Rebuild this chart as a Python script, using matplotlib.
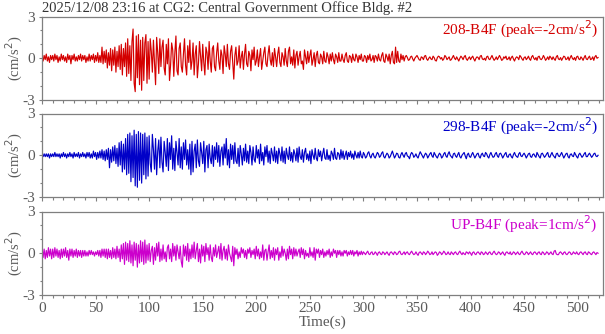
import numpy as np
import matplotlib
matplotlib.use("Agg")
import matplotlib.pyplot as plt
from matplotlib.ticker import MultipleLocator

title = "2025/12/08 23:16 at CG2: Central Government Office Bldg. #2"
channels = ["208-B4F", "298-B4F", "UP-B4F"]
peaks = ["-2", "-2", "1"]
colors = ["#d40000", "#0000c8", "#cc00cc"]
dt = 1.0  # seconds between listed values

ch208 = [
 0.1,-0.2,0.2,-0.1,0.3,-0.2,0.1,-0.3,0.2,-0.1,0.2,-0.2,0.3,-0.1,0.2,-0.3,0.1,-0.2,0.3,-0.1,
 0.2,-0.2,0.1,-0.3,0.3,-0.1,0.2,-0.4,0.2,-0.1,0.3,-0.2,0.1,-0.2,0.2,-0.1,0.3,-0.2,0.2,-0.1,
 0.2,-0.3,0.1,-0.2,0.3,-0.2,0.2,-0.1,0.3,-0.3,0.2,-0.2,0.4,-0.3,0.2,-0.3,0.8,-0.4,0.5,-0.3,
 0.6,-0.7,0.4,-0.5,0.7,-0.9,0.6,-0.5,0.8,-1.0,0.5,-0.6,0.9,-0.8,1.0,-1.2,0.7,-0.6,1.1,-1.3,
 1.4,-1.1,0.9,-1.6,1.2,2.1,-1.8,-2.4,1.6,-1.4,1.7,-1.9,1.3,-2.3,1.5,-1.6,1.1,1.7,-1.8,1.2,
 -1.5,1.4,0.5,-1.0,1.3,-0.3,-1.9,1.5,0.4,-1.1,1.4,-0.6,0.8,1.3,-0.7,-1.2,1.0,-0.4,1.4,-1.6,
 -0.5,1.1,0.6,-1.3,0.4,1.6,-0.9,-1.2,0.7,1.1,-0.6,-1.0,0.3,1.4,-0.5,-1.2,0.9,-0.3,1.3,-0.8,
 -0.2,1.1,-1.2,0.3,0.9,-1.4,-0.4,1.2,0.2,-0.9,1.0,-0.3,-1.2,0.8,0.4,-0.8,1.2,-0.2,-1.0,0.7,
 0.9,-0.6,-0.9,0.4,1.1,-0.2,-0.8,0.6,0.2,-1.1,0.9,0.3,-0.6,1.0,-0.4,-0.8,0.5,0.9,-0.3,-1.5,
 0.2,0.8,-0.5,-0.2,0.9,-0.7,0.1,0.5,-0.8,0.3,1.0,-0.4,-0.6,0.5,0.2,-0.9,0.6,-0.1,0.8,-0.5,
 -0.2,0.6,-0.6,0.1,0.7,-0.8,-0.2,0.4,0.8,-0.4,-0.6,0.3,0.9,-0.1,-0.5,0.4,-0.6,0.7,0.1,-0.6,
 0.3,0.8,-0.3,-0.6,0.4,0.1,-0.5,0.7,-0.2,-0.6,0.5,0.8,-0.4,0.1,-0.5,0.6,-0.7,0.2,0.5,-0.5,
 0.1,0.5,-0.4,-0.2,-0.8,0.6,0.1,-0.4,0.5,-0.3,0.2,0.6,-0.5,-0.1,0.4,-0.6,0.2,0.5,-0.3,-0.4,
 0.3,0.1,-0.4,0.5,-0.2,-0.3,0.4,0.1,-0.4,0.3,-0.2,0.4,-0.1,-0.4,0.3,0.1,-0.3,0.4,-0.2,-0.2,
 0.3,-0.1,-0.3,0.2,0.4,-0.2,-0.3,0.2,0.1,-0.3,0.3,-0.1,-0.2,0.3,0.1,-0.3,0.2,-0.1,0.3,-0.2,
 -0.2,0.2,0.1,-0.3,0.2,-0.1,0.3,-0.2,-0.1,0.2,-0.3,0.2,0.1,-0.2,0.3,-0.1,-0.2,0.2,0.4,-0.2,
 -0.3,0.3,0.1,-0.2,0.3,-0.4,0.2,0.5,-0.3,-0.4,0.8,-0.3,0.5,-0.2,-0.3,0.3,-0.1,0.2,-0.2,0.1,
 0.2,0.05,-0.15,-0.1,0.1,0.15,-0.05,-0.2,0.0,0.1,0.2,0.05,-0.1,-0.15,0.1,0.05,-0.1,0.15,0.2,-0.05,
 -0.15,0.0,0.1,-0.05,-0.1,0.15,0.05,-0.15,-0.2,0.05,0.15,0.1,-0.05,0.05,-0.15,-0.05,0.2,0.1,-0.1,0.0,
 0.1,-0.15,-0.1,0.05,0.2,0.0,-0.1,0.1,-0.05,-0.2,0.0,0.15,0.05,-0.1,0.1,0.2,-0.05,-0.15,0.0,0.1,
 -0.1,0.05,0.15,-0.05,-0.2,0.0,0.1,0.05,-0.1,0.15,0.2,-0.05,-0.1,0.0,-0.15,0.1,0.15,-0.05,-0.1,0.05,
 0.2,0.0,-0.15,-0.05,0.1,-0.1,0.05,0.2,0.05,-0.15,-0.1,0.1,0.0,0.15,-0.1,-0.05,0.1,-0.15,0.05,0.15,
 -0.05,-0.2,0.0,0.1,0.05,-0.1,0.2,0.1,-0.05,-0.15,0.05,0.1,-0.1,0.0,0.15,-0.05,-0.15,0.1,0.2,0.0,
 -0.1,0.05,-0.15,0.1,0.15,-0.05,-0.1,0.0,0.2,0.05,-0.15,-0.05,0.1,-0.1,0.15,0.05,-0.1,0.1,-0.05,-0.15,
 0.1,0.2,-0.05,-0.1,0.05,-0.15,0.0,0.15,0.1,-0.1,-0.05,0.1,-0.15,0.05,0.2,0.0,-0.1,0.05,-0.15,0.1,
 0.15,-0.05,-0.1,0.1,0.0,-0.15,0.05,0.2,-0.05,-0.1,0.05,0.15,-0.1,-0.05,0.1,-0.15,0.1,0.2,0.0,0.05,
]

ch298 = [
 0.1,-0.1,0.1,-0.1,0.1,-0.1,0.1,-0.2,0.1,-0.1,0.1,-0.1,0.2,-0.1,0.1,-0.1,0.1,-0.2,0.1,-0.1,
 0.2,-0.1,0.1,-0.2,0.1,-0.1,0.2,-0.1,0.1,-0.2,0.2,-0.1,0.1,-0.1,0.2,-0.2,0.1,-0.1,0.2,-0.1,
 0.1,-0.2,0.2,-0.1,0.2,-0.2,0.1,-0.2,0.3,-0.1,0.2,-0.3,0.2,-0.2,0.3,-0.2,0.4,-0.3,0.3,-0.4,
 0.4,-0.3,0.5,-0.9,0.4,-0.5,0.6,-0.4,0.7,-0.6,0.5,-0.8,0.9,-0.7,1.0,-1.2,0.8,-1.0,1.2,-1.4,
 1.5,-1.3,1.6,-1.9,1.4,-1.6,1.8,-2.2,1.5,-2.3,1.7,-1.8,1.6,-2.0,1.5,-1.4,1.6,-1.7,1.3,-1.5,
 1.4,-0.6,-1.2,1.5,0.4,-1.0,1.2,-1.4,0.3,1.1,-0.9,1.3,-0.5,-1.2,1.0,0.2,-0.8,1.2,-1.1,0.9,
 -0.3,1.4,-1.0,0.5,-1.1,1.0,0.2,-0.7,1.2,-0.9,0.6,-1.0,0.9,-0.3,1.1,-0.7,0.4,-1.0,0.8,-1.4,
 1.0,-1.2,0.3,0.8,-0.9,1.1,-0.4,-0.8,0.9,0.2,-0.6,1.0,-1.2,0.4,0.7,-0.9,0.8,-0.2,-0.6,0.7,
 -0.8,0.6,-0.3,0.9,-0.5,0.7,-0.8,0.3,0.6,-0.7,0.8,-0.2,1.2,-0.7,0.4,-0.9,0.8,-0.3,0.7,-0.6,
 0.9,-0.4,-0.6,0.5,-0.8,0.7,0.1,-0.7,0.5,-0.4,0.8,-0.5,0.3,-0.6,0.7,0.2,-0.7,0.6,-0.3,-0.5,
 0.7,-0.2,0.4,-0.6,0.8,-0.4,0.2,-0.7,0.6,-0.1,0.7,-0.5,0.3,-0.6,0.5,0.1,-0.4,0.6,-0.5,0.3,
 -0.6,0.5,0.1,-0.4,0.6,-0.5,0.3,-0.6,0.5,0.0,-0.3,0.6,-0.4,0.2,-0.5,0.4,0.1,-0.4,0.5,-0.5,
 0.6,-0.1,-0.3,0.4,-0.5,0.2,0.5,-0.3,0.1,-0.4,0.3,-0.6,0.4,0.0,-0.3,0.5,-0.2,-0.4,0.4,-0.1,
 0.3,-0.4,0.1,0.5,-0.2,-0.3,0.4,-0.3,0.0,-0.4,0.3,0.1,-0.3,0.5,-0.2,-0.3,0.2,0.1,-0.3,0.4,
 -0.2,0.3,-0.3,0.0,0.3,-0.3,0.2,-0.1,0.3,-0.2,0.1,-0.3,0.3,0.0,-0.2,0.2,-0.2,0.3,-0.1,-0.2,
 0.2,0.05,-0.2,-0.1,0.15,0.25,-0.05,-0.2,0.05,0.15,-0.1,-0.2,0.0,0.2,0.1,-0.15,-0.05,0.15,0.25,-0.1,
 -0.2,0.0,0.15,0.05,-0.2,-0.1,0.1,0.3,0.05,-0.2,-0.05,0.15,0.1,-0.15,-0.2,0.05,0.2,0.0,-0.15,0.1,
 0.2,-0.05,-0.1,-0.25,0.05,0.2,0.1,-0.15,-0.05,0.1,-0.1,-0.2,0.05,0.25,0.1,-0.05,-0.2,0.0,0.15,0.05,
 -0.2,-0.05,0.1,0.2,-0.05,-0.15,0.2,0.05,-0.1,-0.2,0.0,0.15,0.05,-0.2,-0.1,0.1,0.2,-0.05,-0.15,0.1,
 0.25,0.0,-0.1,-0.2,0.1,0.15,-0.05,-0.15,0.05,0.2,-0.1,-0.2,0.0,0.1,0.2,-0.05,-0.25,0.05,0.15,-0.1,
 -0.15,0.05,0.2,0.0,-0.2,-0.05,0.1,0.15,-0.1,-0.2,0.05,0.15,-0.05,-0.1,0.2,0.1,-0.1,-0.2,0.05,0.2,
 0.0,-0.15,-0.1,0.1,0.2,-0.05,-0.15,0.1,0.15,0.0,-0.2,-0.05,0.1,0.2,-0.1,-0.15,0.05,0.1,-0.1,-0.2,
 0.05,0.2,0.0,-0.1,-0.15,0.1,0.2,-0.05,-0.1,0.05,0.15,0.0,-0.2,-0.05,0.1,0.15,-0.1,-0.15,0.05,0.1,
 -0.05,-0.15,0.2,0.05,-0.1,-0.2,0.1,0.15,0.0,-0.15,-0.05,0.1,0.2,-0.1,-0.15,0.05,0.2,0.0,-0.1,-0.2,
 0.1,0.15,-0.05,-0.1,0.05,0.2,0.0,-0.2,-0.05,0.1,0.15,-0.1,-0.2,0.05,0.1,-0.05,-0.1,0.2,0.05,-0.1,
 -0.2,0.05,0.15,0.0,-0.15,-0.05,0.1,0.2,-0.1,-0.1,0.05,0.15,0.0,-0.15,-0.05,0.1,0.15,-0.05,-0.1,0.0,
]

chUP = [
 0.4,-0.3,0.3,-0.4,0.2,-0.3,0.4,-0.2,0.3,-0.4,0.3,-0.3,0.4,-0.2,0.3,-0.3,0.2,-0.4,0.3,-0.3,
 0.3,-0.2,0.4,-0.3,0.2,-0.5,0.3,-0.2,0.3,-0.3,0.2,-0.2,0.3,-0.3,0.2,-0.2,0.2,-0.3,0.2,-0.2,
 0.2,-0.2,0.1,-0.2,0.2,-0.1,0.2,-0.1,0.1,-0.2,0.1,-0.1,0.2,-0.2,0.2,-0.3,0.3,-0.2,0.3,-0.3,
 0.3,-0.4,0.3,-0.3,0.2,-0.4,0.4,-0.3,0.3,-0.4,0.5,-0.3,0.3,-0.6,0.6,-0.4,0.7,-0.8,0.8,-0.5,
 0.7,-0.6,0.9,-0.7,0.6,-0.9,0.8,-0.5,0.7,-1.0,0.6,-0.7,0.9,-0.6,0.8,-0.8,0.95,-0.7,0.6,-0.5,
 0.7,-0.6,0.2,0.5,-0.8,0.4,-0.5,0.7,-0.2,0.8,-0.6,0.3,-0.5,0.6,-0.4,0.1,-0.6,0.4,0.6,-0.4,
 0.3,-0.6,0.7,-0.2,0.5,-0.5,0.6,0.1,-0.4,0.5,-0.6,-1.0,0.6,-0.2,0.5,-0.5,0.7,-0.6,0.3,-0.4,
 0.6,-0.3,0.8,-0.4,0.2,0.7,-0.6,0.3,-0.7,0.6,-0.2,0.5,-0.6,0.7,-0.1,0.4,-0.5,0.6,-0.3,-0.6,
 0.4,-0.2,0.6,-0.3,0.1,0.5,-0.4,0.7,-0.5,0.2,0.5,-0.4,0.3,-0.5,0.6,0.0,-0.3,-0.6,0.5,-0.9,
 0.4,-0.1,0.3,-0.4,0.1,-0.3,0.4,0.0,0.3,-0.3,0.2,-0.4,0.3,0.0,0.4,-0.3,0.2,-0.1,0.3,-0.4,
 0.5,-0.2,0.3,-0.4,0.1,-0.3,0.6,-0.5,0.2,0.3,-0.5,0.1,0.6,-0.4,0.2,-0.3,0.4,-0.5,0.3,-0.1,
 0.4,-0.5,0.1,-0.3,0.5,-0.2,0.3,0.0,-0.5,0.3,-0.4,0.5,-0.1,0.3,-0.4,0.4,-0.2,0.3,-0.2,0.1,
 0.3,-0.3,0.4,-0.1,0.3,-0.4,0.2,-0.2,0.0,-0.3,0.4,-0.2,0.1,-0.3,0.4,-0.5,0.3,0.0,0.3,-0.3,
 0.2,-0.1,0.3,-0.3,0.1,-0.2,0.2,-0.1,0.3,-0.3,0.1,-0.2,0.3,0.0,0.2,-0.3,0.2,-0.1,0.2,-0.2,
 0.1,-0.2,0.2,0.0,0.2,-0.2,0.1,-0.1,0.2,-0.1,0.2,-0.2,0.1,-0.05,0.2,-0.2,0.1,-0.1,0.15,-0.1,
 0.1,0.0,-0.1,0.05,0.15,-0.05,-0.1,0.05,0.1,-0.1,-0.05,0.1,0.0,-0.15,0.05,0.1,-0.05,-0.1,0.1,0.05,
 -0.1,0.0,0.1,-0.05,-0.15,0.05,0.1,0.0,-0.1,0.1,0.05,-0.1,-0.05,0.1,0.15,-0.05,-0.1,0.0,0.1,-0.1,
 0.05,0.1,-0.05,-0.1,0.05,0.15,0.0,-0.1,-0.05,0.1,-0.05,-0.15,0.05,0.1,0.0,-0.1,0.1,0.05,-0.1,0.0,
 0.15,0.05,-0.1,-0.05,0.1,-0.1,0.0,0.1,0.05,-0.15,-0.05,0.1,0.05,-0.1,0.0,0.15,0.05,-0.1,-0.05,0.1,
 -0.05,-0.1,0.1,0.0,-0.1,0.05,0.1,-0.05,-0.1,0.05,0.15,0.0,-0.1,0.05,-0.05,-0.1,0.1,0.05,-0.05,0.1,
 0.0,-0.15,0.05,0.1,-0.05,-0.1,0.05,0.1,0.0,-0.1,0.1,0.05,-0.1,-0.05,0.1,0.0,-0.1,0.05,0.1,-0.05,
 -0.1,0.05,0.15,0.0,-0.1,-0.05,0.1,0.05,-0.1,0.0,0.1,-0.05,-0.15,0.05,0.1,0.0,-0.05,0.1,-0.1,-0.05,
 0.1,0.05,-0.1,0.0,0.1,-0.05,-0.1,0.05,0.15,0.0,-0.1,-0.05,0.1,0.05,-0.1,0.0,0.1,-0.05,-0.1,0.05,
 0.1,0.0,-0.1,0.05,0.1,-0.05,-0.1,0.1,0.05,-0.1,-0.05,0.1,0.05,-0.1,0.0,0.1,-0.05,-0.1,0.15,0.2,
 -0.05,-0.1,-0.1,0.05,0.1,0.0,-0.1,0.05,0.1,-0.05,-0.1,0.0,0.1,0.05,-0.1,-0.05,0.1,0.0,-0.05,0.1,
 -0.05,-0.1,0.05,0.1,0.0,-0.1,0.05,0.1,-0.05,-0.1,0.1,0.05,-0.05,-0.1,0.05,0.1,0.0,-0.1,0.05,0.0,
]

traces = [ch208, ch298, chUP]

plt.rcParams['font.family'] = ['Liberation Serif', 'DejaVu Serif']
W, H = 605, 334
fig = plt.figure(figsize=(W / 100, H / 100), dpi=100)

gray = '#7f7f7f'
textgray = '#5a5a5a'
left, right = 42, 603
tops = [16.5, 113.5, 211.5]
ph = 83.5

axes = []
for i, (vals, col) in enumerate(zip(traces, colors)):
    top = tops[i]
    ax = fig.add_axes([left / W, 1 - (top + ph) / H, (right - left) / W, ph / H])
    t = np.arange(len(vals)) * dt
    ax.plot(t, vals, color=col, lw=0.85)
    ax.set_xlim(0, 523.6)
    ax.set_ylim(-3, 3)
    ax.xaxis.set_major_locator(MultipleLocator(50))
    ax.xaxis.set_minor_locator(MultipleLocator(10))
    ax.yaxis.set_minor_locator(MultipleLocator(1))
    for s in ax.spines.values():
        s.set_color(gray)
        s.set_linewidth(0.9)
    ax.tick_params(axis='both', which='both', direction='out', color=gray,
                   labelcolor=textgray, labelsize=11, width=0.8)
    ax.tick_params(axis='x', which='major', length=3.2, pad=2)
    ax.tick_params(axis='x', which='minor', length=1.8)
    ax.tick_params(axis='y', which='major', length=2.0, pad=3)
    ax.tick_params(axis='y', which='minor', length=1.6)
    ax.set_yticks([-3, 0, 3])
    ax.set_yticklabels(['-3', '0', '3'])
    if i < 2:
        ax.tick_params(axis='x', labelbottom=False)
    fig.text(14 / W, 1 - (top + ph / 2) / H, '(cm/s$^2$)', rotation=90,
             ha='center', va='center', color=textgray, fontsize=10.5)
    ax.text(0.991, 0.975, f"{channels[i]} (peak={peaks[i]}cm/s$^2$)",
            transform=ax.transAxes, ha='right', va='top', color=col, fontsize=11)
    axes.append(ax)

axes[-1].set_xlabel('Time(s)', color=textgray, fontsize=11, labelpad=0)
fig.text(left / W, 1 - 8.5 / H, title, ha='left', va='center', color='#333333', fontsize=10.5)

fig.savefig('out.png', dpi=100)
